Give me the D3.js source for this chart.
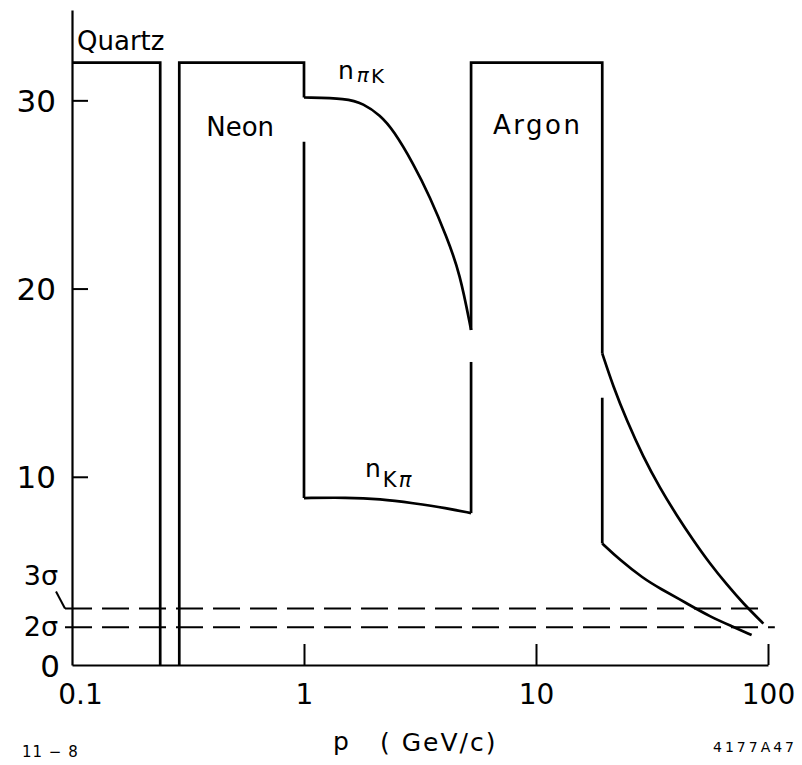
<!DOCTYPE html>
<html>
<head>
<meta charset="utf-8">
<script src="https://cdn.jsdelivr.net/npm/d3@7"></script>
<style>
  body { margin: 0; background: #fff; }
  svg { display: block; background: #fff; }
  text { font-family: "DejaVu Sans", sans-serif; fill: #000; }
</style>
</head>
<body>
<svg id="chart" width="802" height="765"></svg>
<script>
// Axis ticks
const xTickValues = [0.1, 1, 10, 100];
const xTickLabels = ["0.1", "1", "10", "100"];
const yTickValues = [0, 10, 20, 30];
const yTickLabels = ["0", "10", "20", "30"];

// Radiator regions: momentum p (GeV/c), number of photoelectrons n
const quartzP = [0.1, 0.24, 0.24];
const quartzN = [32, 32, 0];
const neonP = [0.29, 0.29, 1.0, 1.0];
const neonN = [0, 32, 32, 30.15];
const argonP = [5.25, 5.25, 19.3, 19.3];
const argonN = [17.8, 32, 32, 16.55];

// n_piK and n_Kpi in the neon range
const nPiKNeonP = [1.0, 1.53, 1.80, 2.13, 2.43, 2.96, 3.49, 4.12, 4.70, 5.25];
const nPiKNeonN = [30.15, 30.1, 29.83, 29.21, 28.41, 26.64, 24.87, 22.75, 20.82, 17.8];
const nKPiNeonEdgeP = [1.0, 1.0];
const nKPiNeonEdgeN = [27.8, 8.87];
const nKPiNeonP = [1.0, 1.53, 2.13, 2.95, 4.12, 5.25];
const nKPiNeonN = [8.87, 8.9, 8.82, 8.6, 8.34, 8.07];
const nKPiNeonEndP = [5.25, 5.25];
const nKPiNeonEndN = [8.07, 16.1];

// n_piK and n_Kpi in the argon range
const nPiKArgonP = [19.3, 21.5, 24.6, 29.0, 34.2, 40.4, 47.6, 56.2, 66.4, 78.3, 95.5];
const nPiKArgonN = [16.56, 14.81, 13.0, 11.05, 9.41, 7.95, 6.63, 5.38, 4.28, 3.26, 2.2];
const nKPiArgonEdgeP = [19.3, 19.3];
const nKPiArgonEdgeN = [14.2, 6.46];
const nKPiArgonP = [19.3, 23.0, 29.0, 34.2, 44.6, 56.2, 70.8, 85.0];
const nKPiArgonN = [6.46, 5.58, 4.60, 4.07, 3.28, 2.57, 2.03, 1.59];

// Separation thresholds
const sigmaLevels = [3, 2];
const sigmaLabels = ["3σ", "2σ"];
const sigmaStartP = [0.0933, 0.0933];
const sigmaEndP = [90.6, 107];

const svg = d3.select("#chart");

const x = d3.scaleLog().domain([0.1, 100]).range([72, 768]);
const y = d3.scaleLinear().domain([0, 34.8]).range([665, 10]);

const zip = (ps, ns) => ps.map((p, i) => [p, ns[i]]);
const straight = d3.line().x(d => x(d[0])).y(d => y(d[1]));
const smooth = d3.line().x(d => x(d[0])).y(d => y(d[1])).curve(d3.curveBasis);

// Axes
const yAxis = d3.axisLeft(y)
  .tickValues(yTickValues)
  .tickFormat((d, i) => yTickLabels[i])
  .tickSizeInner(-16)
  .tickSizeOuter(0)
  .tickPadding(16);

const xAxis = d3.axisBottom(x)
  .tickValues(xTickValues)
  .tickFormat((d, i) => xTickLabels[i])
  .tickSizeInner(-21)
  .tickSizeOuter(0)
  .tickPadding(19);

const gy = svg.append("g").attr("transform", `translate(${x(0.1)},0)`).call(yAxis);
const gx = svg.append("g").attr("transform", `translate(0,${y(0)})`).call(xAxis);

[gx, gy].forEach(g => {
  g.select(".domain").attr("stroke", "#000").attr("stroke-width", 2.2);
  g.selectAll(".tick line").attr("stroke", "#000").attr("stroke-width", 2);
  g.selectAll(".tick text")
    .attr("fill", "#000")
    .style("font-family", '"DejaVu Sans", sans-serif');
});
gy.selectAll(".tick text").style("font-size", "31px").attr("dy", "0.36em");
gy.selectAll(".tick").filter(d => d === 0).select("line").remove();
gy.selectAll(".tick").filter(d => d === 0).select("text").attr("dx", 4);
gx.selectAll(".tick text").style("font-size", "28px");
gx.selectAll(".tick").filter(d => d === 0.1).select("line").remove();
gx.selectAll(".tick").filter(d => d === 0.1).select("text").attr("dx", 8);

// Threshold lines
const sig = svg.append("g");
sigmaLevels.forEach((lvl, i) => {
  sig.append("line")
    .attr("x1", x(sigmaStartP[i])).attr("x2", x(sigmaEndP[i]))
    .attr("y1", y(lvl)).attr("y2", y(lvl))
    .attr("stroke", "#000").attr("stroke-width", 2)
    .attr("stroke-dasharray", "27 10");
  sig.append("text")
    .attr("x", x(0.1) - 14).attr("y", y(lvl) + (i === 0 ? -24 : 9))
    .attr("text-anchor", "end")
    .style("font-size", "27px")
    .text(sigmaLabels[i]);
});
// leader from the 3σ label down to its line
sig.append("path")
  .attr("d", `M${x(0.1) - 16},${y(3) - 17} L${x(0.1) - 7},${y(3)}`)
  .attr("fill", "none").attr("stroke", "#000").attr("stroke-width", 2);

// Radiator boxes and curves
const marks = svg.append("g")
  .attr("fill", "none").attr("stroke", "#000")
  .attr("stroke-width", 2.7).attr("stroke-linejoin", "miter");

[[quartzP, quartzN], [neonP, neonN], [argonP, argonN],
 [nKPiNeonEdgeP, nKPiNeonEdgeN], [nKPiNeonEndP, nKPiNeonEndN],
 [nKPiArgonEdgeP, nKPiArgonEdgeN]].forEach(([ps, ns]) => {
  marks.append("path").attr("d", straight(zip(ps, ns)));
});

[[nPiKNeonP, nPiKNeonN], [nKPiNeonP, nKPiNeonN],
 [nPiKArgonP, nPiKArgonN], [nKPiArgonP, nKPiArgonN]].forEach(([ps, ns]) => {
  marks.append("path").attr("d", smooth(zip(ps, ns)));
});

// Region labels
const lbl = svg.append("g");
lbl.append("text").attr("x", x(0.1) + 5).attr("y", y(32) - 13)
  .style("font-size", "26px").text("Quartz");
lbl.append("text").attr("x", x(0.29) + 27).attr("y", y(32) + 73)
  .style("font-size", "26px").text("Neon");
lbl.append("text").attr("x", x(5.25) + 22).attr("y", y(32) + 71)
  .style("font-size", "26px").style("letter-spacing", "2.5px").text("Argon");

// n_piK label
const t1 = lbl.append("text").attr("x", x(1) + 34).attr("y", y(32) + 16);
t1.append("tspan").style("font-size", "25px").text("n");
t1.append("tspan").attr("dx", 3).attr("dy", 3).style("font-size", "20px")
  .style("font-style", "italic").text("π");
t1.append("tspan").attr("dx", 2).attr("dy", 1).style("font-size", "20px").text("K");

// n_Kpi label
const t2 = lbl.append("text").attr("x", x(1) + 61).attr("y", y(8.9) - 20);
t2.append("tspan").style("font-size", "25px").text("n");
t2.append("tspan").attr("dx", 2).attr("dy", 10).style("font-size", "21px").text("K");
t2.append("tspan").attr("dx", 2).style("font-size", "21px")
  .style("font-style", "italic").text("π");

// Axis title and figure codes
svg.append("text").attr("x", 333).attr("y", 750).style("font-size", "25px").text("p");
svg.append("text").attr("x", 380).attr("y", 751).style("font-size", "25px")
  .style("letter-spacing", "2px").text("( GeV/c)");
svg.append("text").attr("x", 22).attr("y", 757).style("font-size", "15px")
  .style("letter-spacing", "1px").text("11 − 8");
svg.append("text").attr("x", 713).attr("y", 752).style("font-size", "14px")
  .style("letter-spacing", "3px").text("4177A47");
</script>
</body>
</html>
